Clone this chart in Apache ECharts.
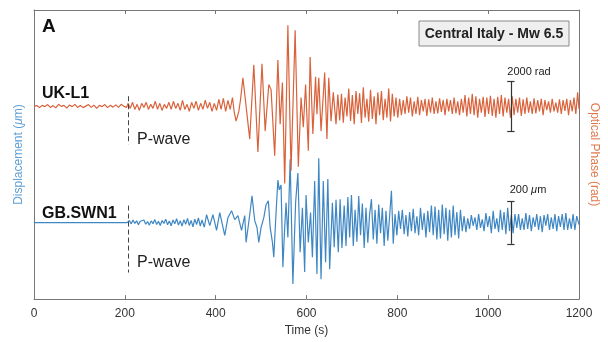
<!DOCTYPE html>
<html>
<head>
<meta charset="utf-8">
<script src="https://cdn.jsdelivr.net/npm/echarts@6/dist/echarts.min.js"></script>
<style>
html,body{margin:0;padding:0;background:#fff;}
#c{width:608px;height:342px;}
</style>
</head>
<body>
<div id="c"></div>
<script>
// Time axis ticks (s)
const timeTicks = [0, 200, 400, 600, 800, 1000, 1200];

// UK-L1 optical phase (rad): [time s, phase rad]
const ukL1Phase = [
[0,0],[6,30],[12,-50],[18,40],[24,-10],[30,70],[36,-40],[42,30],[48,-60],[54,80],[60,0],[66,40],[72,-70],[78,50],[84,-10],[90,80],[96,-40],[102,30],[108,-50],[114,10],[120,70],[126,-40],[132,50],[138,-80],[144,40],[150,-10],[156,70],[162,-50],[168,40],[174,-30],[180,60],[186,-40],[192,80],[198,0],[204,-40],
[207,120],[212,-80],[217,160],[222,-120],[227,80],[232,-160],[237,120],[242,-40],[247,160],[252,-120],[257,80],[262,-80],[267,200],[272,-120],[277,120],[282,-160],[287,80],[292,-80],[297,160],[302,-120],[307,200],[312,-80],[317,120],[322,-160],[327,240],[332,-120],[337,80],[342,-200],[347,160],[352,-80],[357,200],[362,-160],[367,120],[372,-120],[377,240],[382,-80],[387,160],[392,-200],[397,120],[402,-160],[407,280],[412,-120],[417,320],[422,-200],[427,240],[432,-120],[437,350],[441,-240],[445,-580],[451,-200],[455,300],[460,1130],
[475,-1290],[484,1640],[493,-1800],[502,1680],[509,-975],[517,860],[522,660],[530,-1950],[537,1830],[542,-700],[547,940],[552,-3040],[559,3200],[566,-2540],[575,3000],[582,-2380],[588,350],[593,-820],[598,860],[604,-1750],[608,1950],[614,-1090],[620,1170],[623,-310],[627,1130],[632,-975],[640,1330],[645,-1290],[649,1130],[654,-585],[659,550],[665,-700],[669,470],
[673,-560],[677,500],[681,-640],[685,350],[689,-400],[693,700],[697,-580],[701,450],[705,-700],[709,600],[713,-300],[717,520],[721,-650],[725,750],[729,-450],[733,300],[737,-600],[741,650],[745,-500],[749,400],[753,-700],[757,550],[761,-350],[765,600],[769,-550],[773,300],[777,-450],[781,700],[785,-600],[789,500],[793,-400],[797,350],
[801,-450],[805,300],[809,-350],[813,250],[817,-300],[821,400],[825,-250],[829,350],[833,-400],[837,200],[841,-300],[845,380],[849,-350],[853,250],[857,-200],[861,300],[865,-380],[869,280],[873,-250],[877,350],[881,-300],[885,200],[889,-280],[893,320],[897,-220],[901,260],[905,-350],[909,300],[913,-200],[917,250],[921,-300],[925,350],[929,-280],[933,200],[937,-350],[941,300],[945,-250],[949,450],[953,-400],[957,350],[961,-300],[965,500],[969,-350],[973,400],[977,-450],[981,300],[985,-250],[989,380],[993,-420],[997,350],
[1001,-300],[1005,420],[1009,-380],[1013,300],[1017,-450],[1021,380],[1025,-300],[1029,450],[1033,-400],[1037,350],[1041,-250],[1045,300],[1049,-450],[1053,400],[1057,-350],[1061,300],[1065,-250],[1069,350],[1073,-380],[1077,280],[1081,-300],[1085,350],[1089,-250],[1093,200],[1097,-300],[1101,320],[1105,-280],[1109,250],[1113,-200],[1117,300],[1121,-350],[1125,250],[1129,-150],[1133,200],[1137,-250],[1141,300],[1145,-200],[1149,150],[1153,-250],[1157,280],[1161,-300],[1165,250],[1169,-180],[1173,300],[1177,-350],[1181,250],[1185,-200],[1189,350],[1193,-300],[1197,550],[1200,-100]
];

// GB.SWN1 displacement (um): [time s, displacement um]
const swn1Disp = [
[0,0],[100,0],[205,0],
[207,0],[210,10],[214,-6],[218,12],[222,-4],[226,8],[230,-10],[234,6],[238,-3],[242,12],[246,-8],[250,5],[254,-12],[258,8],[262,-5],[266,14],[270,-9],[274,6],[278,-14],[282,10],[286,-4],[290,16],[294,-10],[298,7],[302,-15],[306,12],[310,-6],[314,18],[318,-12],[322,9],[326,-17],[330,14],[334,-8],[338,20],[342,-14],[346,10],[350,-20],[354,16],[358,-9],[362,22],[366,-16],[370,12],[375,-22],
[380,37],[387,-14],[394,37],[402,-37],[409,47],[420,-60],[427,23],[435,56],[442,14],[449,33],[457,-37],[464,33],
[467,-93],[475,37],[480,126],[486,9],[491,-23],[495,-93],[500,-23],[506,23],[511,84],[516,102],[520,-23],[525,-93],[528,-163],[533,47],[537,200],[540,154],[544,177],[548,-210],[552,-23],[555,93],[559,-70],[564,298],[570,-289],[576,93],[581,233],[586,-140],[591,70],[596,-233],[599,130],[604,-93],[609,47],[613,-163],[618,196],[623,-242],[627,303],[632,-266],[637,196],[642,-186],[647,205],[651,-219],[657,93],[661,-116],[665,107],[670,-140],
[674,110],[678,-120],[683,80],[687,-110],[691,120],[695,-70],[699,130],[703,-110],[707,60],[711,-90],[715,125],[719,-60],[723,90],[727,-120],[731,70],[735,-95],[739,40],[743,110],[747,-80],[751,60],[755,-100],[759,85],[763,-50],[767,70],[771,-110],[775,55],[779,-85],[783,30],[787,150],[791,-100],[795,40],[799,-60],
[803,55],[807,-30],[811,60],[815,-55],[819,35],[823,-65],[827,50],[831,-40],[835,65],[839,-50],[843,30],[847,-60],[851,70],[855,-35],[859,45],[863,-70],[867,55],[871,-45],[875,80],[879,-60],[883,75],[887,-80],[891,60],[895,-75],[899,85],[903,-55],[907,70],[911,-85],[915,60],[919,-70],[923,80],[927,-60],[931,50],[935,-75],[939,60],[943,-40],[947,30],[951,-45],[955,20],[959,-30],[963,35],[967,-15],[971,25],[975,-35],[979,40],[983,-25],[987,15],[991,-40],[995,45],[999,-20],
[1003,30],[1007,-50],[1011,55],[1015,-30],[1019,20],[1023,-45],[1027,60],[1031,-35],[1035,50],[1039,-55],[1043,70],[1047,-40],[1051,35],[1055,-50],[1059,40],[1063,-25],[1067,40],[1071,-35],[1075,20],[1079,-35],[1083,45],[1087,-30],[1091,35],[1095,-40],[1099,25],[1103,-20],[1107,40],[1111,-35],[1115,30],[1119,-45],[1123,35],[1127,-15],[1131,40],[1135,-35],[1139,25],[1143,-30],[1147,40],[1151,-40],[1155,30],[1159,-20],[1163,40],[1167,-35],[1171,45],[1175,-35],[1179,20],[1183,-30],[1187,40],[1191,-35],[1195,30],[1200,-10]
];

// Annotation values
const pWaveTime = 207;
const scaleBarTime = 1050;
const phaseBar = 2000;   // rad
const dispBar = 200;     // um

const BLUE = '#3f87c4';
const ORANGE = '#d9623b';
const FONT = '"Liberation Sans", Arial, sans-serif';

function bar(t, half) {
  const c = 8;
  return [
    [{coord:[t, -half]}, {coord:[t, half]}],
    [{coord:[t - c, half]}, {coord:[t + c, half]}],
    [{coord:[t - c, -half]}, {coord:[t + c, -half]}]
  ];
}

const chart = echarts.init(document.getElementById('c'), null, {renderer:'canvas'});
chart.setOption({
  animation: false,
  backgroundColor: '#fff',
  textStyle: {fontFamily: FONT},
  grid: {left: 34, right: 28, top: 10, bottom: 40, containLabel: false},
  xAxis: [{
    type: 'value', min: 0, max: 1200, interval: 200, position: 'bottom',
    name: 'Time (s)', nameLocation: 'middle', nameGap: 23,
    nameTextStyle: {color: '#333', fontSize: 12, fontFamily: FONT},
    axisLine: {show: true, onZero: false, lineStyle: {color: '#777', width: 1}},
    axisTick: {show: true, inside: true, length: 4, lineStyle: {color: '#777'}},
    axisLabel: {color: '#333', fontSize: 12, margin: 9, fontFamily: FONT,
      formatter: v => timeTicks.indexOf(v) >= 0 ? String(v) : ''},
    splitLine: {show: false}
  }, {
    type: 'value', min: 0, max: 1200, interval: 200, position: 'top',
    axisLine: {show: true, onZero: false, lineStyle: {color: '#777', width: 1}},
    axisTick: {show: true, inside: true, length: 4, lineStyle: {color: '#777'}},
    axisLabel: {show: false}, splitLine: {show: false}
  }],
  yAxis: [{
    type: 'value', min: -360, max: 1000, position: 'left',
    name: 'Displacement ({i|μ}m)', nameLocation: 'middle', nameGap: 9, nameRotate: 90,
    nameTextStyle: {color: '#5f9fd3', fontSize: 12, fontFamily: FONT,
      rich: {i: {fontStyle: 'italic', color: '#5f9fd3', fontSize: 12, fontFamily: FONT}}},
    axisLine: {show: true, onZero: false, lineStyle: {color: '#777', width: 1}},
    axisTick: {show: false}, axisLabel: {show: false}, splitLine: {show: false}
  }, {
    type: 'value', min: -7600, max: 3800, position: 'right',
    name: 'Optical Phase (rad)', nameLocation: 'middle', nameGap: 9, nameRotate: -90,
    nameTextStyle: {color: '#e07a4f', fontSize: 12, fontFamily: FONT},
    axisLine: {show: true, onZero: false, lineStyle: {color: '#777', width: 1}},
    axisTick: {show: false}, axisLabel: {show: false}, splitLine: {show: false}
  }],
  series: [{
    name: 'GB.SWN1', type: 'line', xAxisIndex: 0, yAxisIndex: 0,
    data: swn1Disp, showSymbol: false, symbol: 'none',
    lineStyle: {color: BLUE, width: 1.2}, z: 2,
    markLine: {
      silent: true, symbol: 'none', label: {show: false}, animation: false,
      data: [
        [{coord:[pWaveTime, 80], lineStyle:{type:[5,3], color:'#444', width:1}}, {coord:[pWaveTime, -235]}]
      ].concat(bar(scaleBarTime, dispBar / 2).map(s => [Object.assign({lineStyle:{color:'#333', width:1.2, type:'solid'}}, s[0]), s[1]]))
    }
  }, {
    name: 'UK-L1', type: 'line', xAxisIndex: 0, yAxisIndex: 1,
    data: ukL1Phase, showSymbol: false, symbol: 'none',
    lineStyle: {color: ORANGE, width: 1.2}, z: 3,
    markLine: {
      silent: true, symbol: 'none', label: {show: false}, animation: false,
      data: [
        [{coord:[pWaveTime, 400], lineStyle:{type:[5,3], color:'#444', width:1}}, {coord:[pWaveTime, -1500]}]
      ].concat(bar(scaleBarTime, phaseBar / 2).map(s => [Object.assign({lineStyle:{color:'#333', width:1.2, type:'solid'}}, s[0]), s[1]]))
    }
  }],
  graphic: [
    {type:'text', left: 42, top: 17, style:{text:'A', font:'bold 19px ' + FONT, fill:'#111'}},
    {type:'text', left: 42, top: 86, style:{text:'UK-L1', font:'bold 16px ' + FONT, fill:'#111'}},
    {type:'text', left: 42, top: 206, style:{text:'GB.SWN1', font:'bold 16px ' + FONT, fill:'#111'}},
    {type:'text', left: 137, top: 132, style:{text:'P-wave', font:'16px ' + FONT, fill:'#222'}},
    {type:'text', left: 137, top: 255, style:{text:'P-wave', font:'16px ' + FONT, fill:'#222'}},
    {type:'rect', shape:{x:419, y:21, width:150, height:25}, style:{fill:'#efefef', stroke:'#8a8a8a', lineWidth:1}},
    {type:'text', x: 494, y: 34, style:{text:'Central Italy - Mw 6.5', font:'bold 14px ' + FONT, fill:'#222', align:'center', verticalAlign:'middle'}},
    {type:'text', x: 529, y: 72, style:{text:'2000 rad', font:'11px ' + FONT, fill:'#222', align:'center', verticalAlign:'middle'}},
    {type:'text', x: 528, y: 190, style:{text:'200 {i|μ}m', font:'11px ' + FONT, fill:'#222', align:'center', verticalAlign:'middle',
      rich:{i:{fontStyle:'italic', fontSize:11, fontFamily: FONT, fill:'#222'}}}}
  ]
});
</script>
</body>
</html>
